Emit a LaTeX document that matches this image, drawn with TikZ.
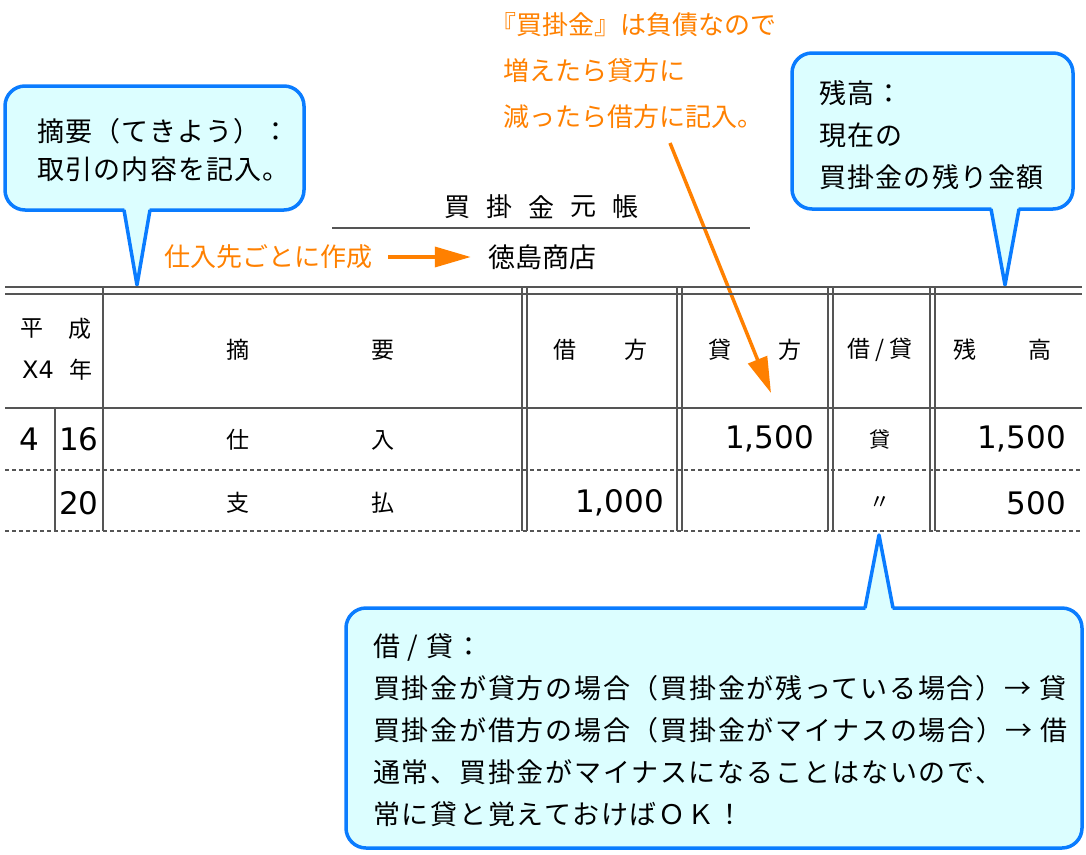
\documentclass[tikz,border=0pt]{standalone}
\usepackage{fontspec}
\setmainfont{Noto Sans CJK JP}
\newfontfamily\num{DejaVu Sans}
\newfontfamily\saysfont[LetterSpace=4.5]{Noto Sans CJK JP}
\newfontfamily\saysfontwide[LetterSpace=6.5]{Noto Sans CJK JP}
\usetikzlibrary{arrows.meta}
\definecolor{ruleg}{HTML}{555555}
\definecolor{balloonb}{HTML}{0A7CFF}
\definecolor{balloonf}{HTML}{DCFEFF}
\definecolor{memo}{HTML}{FF8000}
\tikzset{
  rule/.style={ruleg,line width=2pt},
  dots/.style={ruleg,line width=2pt,dash pattern=on 4pt off 3pt},
  balloon/.style={draw=balloonb,fill=balloonf,line width=3.5pt,rounded corners=20pt},
  tail/.style={balloonb,line width=3.5pt,line join=round},
  memoarrow/.style={memo,line width=3.5pt,-{Triangle[length=36pt,width=20pt]}},
  head/.style={font=\fontsize{23}{23}\selectfont},
  amount/.style={font=\num\fontsize{31}{31}\selectfont},
  says/.style={anchor=west,align=left,font=\saysfont\fontsize{27}{38}\selectfont},
}
\begin{document}
\begin{tikzpicture}[x=1pt,y=-1pt,inner sep=0pt]
\useasboundingbox (0,0) rectangle (1086,854);

% balloons
\draw[balloon] (5,86) rectangle (304,210);
\fill[balloonf] (124,206) -- (137,285) -- (150,206) -- cycle;
\draw[tail] (124,210) -- (137,285) -- (150,210);
\node[says] (zhaiyao) at (37,150) {摘要（てきよう）：\\取引の内容を記入。};

\draw[balloon] (792,53) rectangle (1073,209);
\fill[balloonf] (991,205) -- (1005,285) -- (1019,205) -- cycle;
\draw[tail] (991,209) -- (1005,285) -- (1019,209);
\node[says,font=\saysfont\fontsize{27}{42}\selectfont] (zandaka) at (819,135)
  {残高：\\現在の\\買掛金の残り金額};

\draw[balloon] (346,608) rectangle (1082,848);
\fill[balloonf] (865,612) -- (879,535) -- (893,612) -- cycle;
\draw[tail] (865,608) -- (879,535) -- (893,608);
\node[says,font=\saysfontwide\fontsize{27}{42}\selectfont] (kashikari) at (373,730)
  {借 / 貸：\\
   買掛金が貸方の場合（買掛金が残っている場合）→ 貸\\
   買掛金が借方の場合（買掛金がマイナスの場合）→ 借\\
   通常、買掛金がマイナスになることはないので、\\
   常に貸と覚えておけばＯＫ！};

% orange notes
\node[says,memo,font=\fontsize{26}{46}\selectfont] (note) at (503,71)
  {\hspace*{-0.5em}『買掛金』は負債なので\\増えたら貸方に\\減ったら借方に記入。};
\coordinate (from) at (670,143);
\coordinate (tip) at (771,393);
\draw[memoarrow] (from) -- (tip);

% title
\foreach \c [count=\i] in {買,掛,金,元,帳}
  \node[font=\fontsize{26}{26}\selectfont] (title\i) at (415+42*\i,207) {\c};
\draw[rule] (332,228) -- (750,228);
\node[memo,font=\fontsize{26}{26}\selectfont] (maker) at (268,257) {仕入先ごとに作成};
\node[font=\fontsize{27}{27}\selectfont] (shop) at (542,257) {徳島商店};
\draw[memoarrow,shorten <=16pt,shorten >=17pt] (maker) -- (shop);

% table rules
\foreach \y in {287,294,408}
  \draw[rule] (5,\y) -- (1082,\y);
\foreach \y in {470,531}
  \draw[dots] (5,\y) -- (1082,\y);
\draw[rule] (55,408) -- (55,531);
\foreach \x in {103,522,527,677,682,828,833,930,935}
  \draw[rule] (\x,287) -- (\x,531);

% header
\node[head] (h1) at (32,329) {平};
\node[head] (h2) at (80,329) {成};
\node[head,font=\num\fontsize{24}{24}\selectfont] (h3) at (38,370) {X4};
\node[head] (h4) at (81,370) {年};
\node[head] (h5) at (238,350) {摘};
\node[head] (h6) at (383,350) {要};
\node[head] (h7) at (565,350) {借};
\node[head] (h8) at (636,350) {方};
\node[head] (h9) at (720,350) {貸};
\node[head] (h10) at (790,350) {方};
\node[head] (h11) at (880,350) {借 / 貸};
\node[head] (h12) at (965,350) {残};
\node[head] (h13) at (1040,350) {高};

% rows
\node[amount] (m1) at (29,439) {4};
\node[amount] (d1) at (79,439) {16};
\node[head] (s1) at (238,440) {仕};
\node[head] (s2) at (383,440) {入};
\node[amount,anchor=east] (c1) at (814,439) {1,500};
\node[head,font=\fontsize{21}{21}\selectfont] (k1) at (880,440) {貸};
\node[amount,anchor=east] (b1) at (1066,439) {1,500};

\node[amount] (d2) at (79,503) {20};
\node[head] (s3) at (238,503) {支};
\node[head] (s4) at (383,503) {払};
\node[amount,anchor=east] (e2) at (664,503) {1,000};
\node[head,font=\fontsize{21}{21}\selectfont] (k2) at (880,503) {〃};
\node[amount,anchor=east] (b2) at (1066,503) {500};

\end{tikzpicture}
\end{document}
